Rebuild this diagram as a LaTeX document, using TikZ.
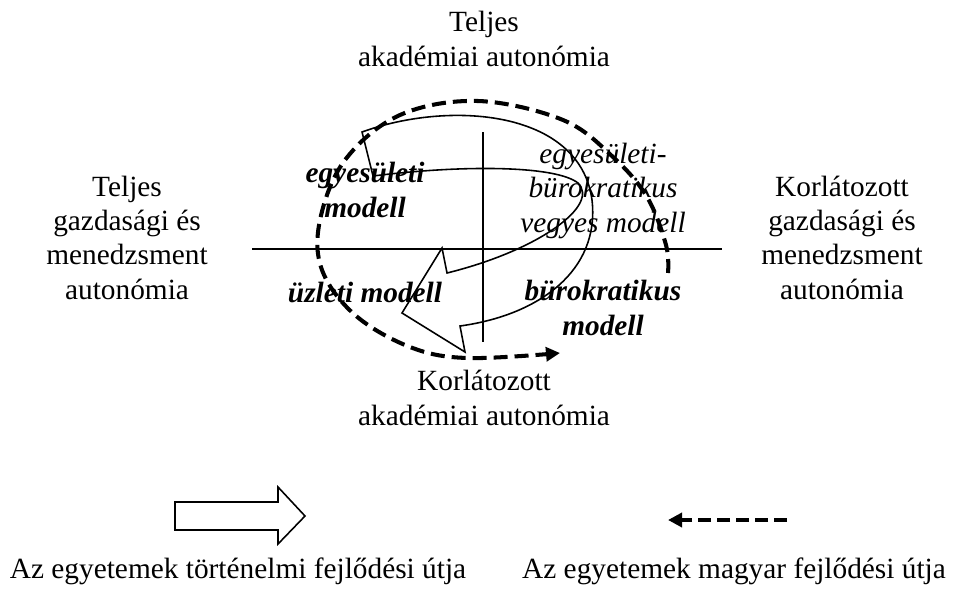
\documentclass[tikz,border=0pt]{standalone}
\usepackage{fontspec}
\setmainfont{Liberation Serif}
\usetikzlibrary{arrows.meta}
\tikzset{
  lbl/.style={font=\fontsize{16.7}{19.5}\selectfont, align=center, inner sep=0pt, anchor=base},
  mdl/.style={lbl, font=\fontsize{16.7}{19.5}\selectfont\bfseries\itshape},
  mdlit/.style={lbl, font=\fontsize{16.7}{19.5}\selectfont\itshape},
  axis/.style={line width=1.4pt},
  hollow/.style={line width=0.9pt, line join=miter},
  hunpath/.style={line width=2.3pt, dash pattern=on 0.28cm off 0.14cm,
    -{Triangle[length=2.8mm,width=2.8mm]}}
}
\begin{document}
\begin{tikzpicture}[x=0.02cm, y=-0.02cm]
\useasboundingbox (0,0) rectangle (962,592);
% axes
\coordinate (W) at (252,249);
\coordinate (E) at (722,249);
\coordinate (N) at (483,132);
\coordinate (S) at (483,342);
\draw[axis] (W) -- (E);
\draw[axis] (N) -- (S);
% axis ends (base = last line)
\node[lbl] (top) at (484,66) {Teljes\\akadémiai autonómia};
\node[lbl] (bottom) at (484,425) {Korlátozott\\akadémiai autonómia};
\node[lbl] (left) at (127,299) {Teljes\\gazdasági és\\menedzsment\\autonómia};
\node[lbl] (right) at (842,299) {Korlátozott\\gazdasági és\\menedzsment\\autonómia};
% models
\node[mdl] (egy) at (365,217) {egyesületi\\modell};
\node[mdlit] (vegyes) at (603,232) {egyesületi-\\bürokratikus\\vegyes modell};
\node[mdl] (uzleti) at (365,302) {üzleti modell};
\node[mdl] (buro) at (603,335) {bürokratikus\\modell};
% historical path (hollow arrow)
\draw[hollow] (362,132) .. controls (450,100) and (580,110) .. (592,200)
  .. controls (600,270) and (540,315) .. (460,326)
  -- (465,352) -- (402,313) -- (442,248) -- (447,273)
  .. controls (540,250) and (600,205) .. (578,183)
  .. controls (555,165) and (460,165) .. (373,176) -- cycle;
% hungarian path
\draw[hunpath] plot[smooth, tension=0.6] coordinates {(668,273) (666,245) (647,197)
  (613,157) (563,120) (478,101) (400,115) (345,160) (320,220) (322,270)
  (355,315) (410,347) (467,358) (560,353)};
% legend
\draw[hollow] (175,502) -- (278,502) -- (278,487) -- (305,516) -- (278,544)
  -- (278,530) -- (175,530) -- cycle;
\coordinate (hs) at (787,520);
\coordinate (he) at (668,520);
\draw[hunpath, dash pattern=on 0.26cm off 0.12cm] (hs) -- (he);
\node[lbl] (hist) at (238,578) {Az egyetemek történelmi fejlődési útja};
\node[lbl] (hun) at (734,578) {Az egyetemek magyar fejlődési útja};
\end{tikzpicture}
\end{document}
